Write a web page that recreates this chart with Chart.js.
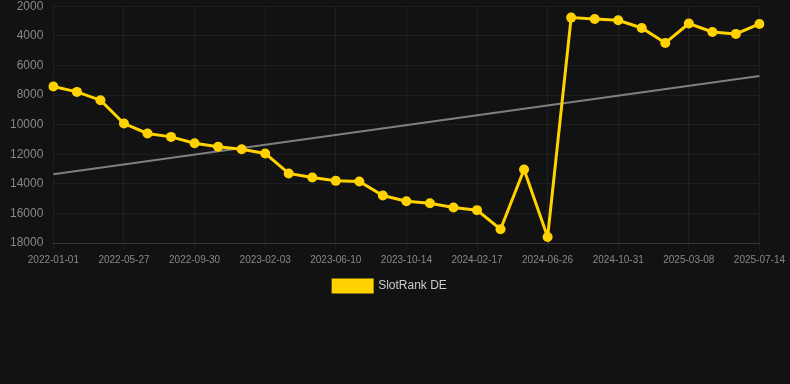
<!DOCTYPE html>
<html>
<head>
<meta charset="utf-8">
<script src="https://cdn.jsdelivr.net/npm/chart.js@4/dist/chart.umd.min.js"></script>
<style>
  html, body { margin: 0; padding: 0; background: #121212; overflow: hidden; }
  #wrap { position: relative; width: 790px; height: 313px; margin-top: -11px; }
</style>
</head>
<body>
<div id="wrap"><canvas id="c"></canvas></div>
<script>
const labels = [
  "2022-01-01","2022-02-19","2022-04-09","2022-05-27","2022-07-08","2022-08-19",
  "2022-09-30","2022-11-11","2022-12-23","2023-02-03","2023-03-17","2023-04-29",
  "2023-06-10","2023-07-22","2023-09-02","2023-10-14","2023-11-25","2024-01-06",
  "2024-02-17","2024-03-31","2024-05-13","2024-06-26","2024-08-07","2024-09-19",
  "2024-10-31","2024-12-13","2025-01-24","2025-03-08","2025-04-20","2025-06-01",
  "2025-07-14"
];
const slotRankDE = [
  7420, 7790, 8350, 9930, 10600, 10830, 11260, 11500, 11660, 11950, 13300, 13580,
  13800, 13850, 14790, 15180, 15310, 15600, 15780, 17070, 13030, 17590,
  2770, 2860, 2950, 3470, 4480, 3170, 3740, 3870, 3200
];
const trendStart = 13350;
const trendEnd = 6710;
const yTicks = [2000, 4000, 6000, 8000, 10000, 12000, 14000, 16000, 18000];

const trend = labels.map((_, i) => i === 0 ? trendStart : (i === labels.length - 1 ? trendEnd : null));

const legendShift = {
  id: 'legendShift',
  afterLayout(chart) {
    if (chart.legend) { chart.legend.left += 9; chart.legend.right += 9; }
  }
};

new Chart(document.getElementById('c'), {
  type: 'line',
  data: {
    labels: labels,
    datasets: [
      {
        label: 'SlotRank DE',
        data: slotRankDE,
        borderColor: '#FFD200',
        backgroundColor: '#FFD200',
        borderWidth: 3,
        pointRadius: 5,
        pointHoverRadius: 5,
        pointBackgroundColor: '#FFD200',
        pointBorderWidth: 0,
        tension: 0
      },
      {
        label: 'trend',
        data: trend,
        spanGaps: true,
        borderColor: 'rgba(140,140,140,0.9)',
        borderWidth: 2,
        pointRadius: 0,
        tension: 0
      }
    ]
  },
  plugins: [legendShift],
  options: {
    responsive: true,
    maintainAspectRatio: false,
    animation: false,
    layout: { padding: { left: 0, right: 28, top: 0, bottom: 0 } },
    plugins: {
      legend: {
        position: 'bottom',
        labels: {
          color: '#cccccc',
          font: { family: 'Liberation Sans, Arial, sans-serif', size: 12 },
          boxWidth: 39,
          boxHeight: 12,
          padding: 9,
          filter: (item) => item.text !== 'trend'
        }
      },
      tooltip: { enabled: false }
    },
    scales: {
      x: {
        grid: { color: 'rgba(255,255,255,0.05)', tickLength: 6 },
        border: { color: 'rgba(255,255,255,0.1)' },
        ticks: {
          autoSkip: false,
          maxRotation: 0,
          padding: 5,
          color: '#888888',
          font: { family: 'Liberation Sans, Arial, sans-serif', size: 10 },
          callback: function(v, i) { return i % 3 === 0 ? labels[i] : null; }
        }
      },
      y: {
        reverse: true,
        min: 2000,
        max: 18000,
        afterBuildTicks: (axis) => { axis.ticks = yTicks.map(v => ({ value: v })); },
        grid: { color: 'rgba(255,255,255,0.05)', drawTicks: false },
        border: { display: false },
        ticks: {
          color: '#888888',
          font: { family: 'Liberation Sans, Arial, sans-serif', size: 12 },
          padding: 10,
          callback: (v) => String(v)
        }
      }
    }
  }
});
</script>
</body>
</html>
